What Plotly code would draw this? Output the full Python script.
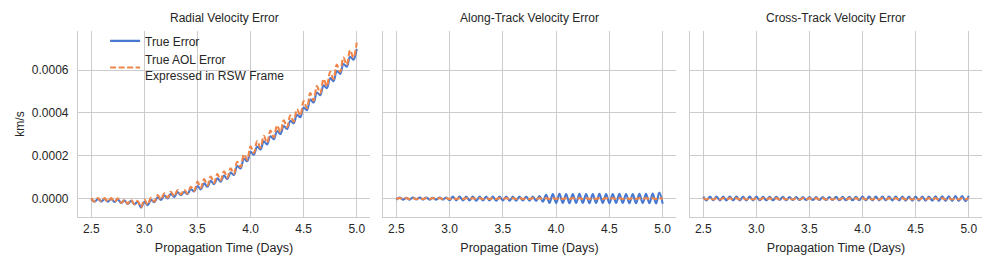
import numpy as np
import plotly.graph_objects as go
from plotly.subplots import make_subplots

# Propagation time grid: one sample every half orbit (16 orbits / day), 2.5 -> 5.0 days
time_days = np.linspace(2.5, 5.0, 81)

# Values, in mm/s (1e-6 km/s)
radial_true = [-2, -15, -2, -13, -2, -15, -2, -16, -3, -21, -9, -25, -10, -27, -15, -42,
               -15, -31, -6, -17, 6, -7, 15, 1, 22, 8, 30, 16, 31, 21, 45, 33,
               59, 43, 71, 55, 83, 67, 95, 79, 107, 91, 121, 110, 152, 141, 186, 174,
               218, 205, 243, 229, 267, 253, 291, 277, 315, 301, 339, 325, 363, 351, 391, 380,
               425, 412, 462, 448, 495, 482, 528, 515, 562, 548, 595, 582, 628, 615, 662, 648, 698]
radial_aol = [2, -14, 2, -12, 2, -14, 2, -15, 1, -20, -5, -24, -6, -26, -11, -41,
              -5, -28, 4, -14, 16, -4, 25, 4, 32, 11, 40, 19, 41, 24, 55, 36,
              79, 49, 91, 61, 103, 73, 115, 85, 127, 97, 141, 116, 172, 147, 206, 180,
              244, 213, 269, 237, 293, 261, 317, 285, 341, 309, 365, 333, 389, 359, 417, 388,
              455, 421, 492, 457, 525, 491, 558, 524, 592, 557, 625, 591, 658, 624, 692, 657, 728]
along_true = [-5, 5, -5, 4, -5, 5, -4, 5, -5, 5, -5, 4, -5, 5, -5, 5,
              -8, 9, -9, 9, -9, 10, -9, 9, -10, 9, -9, 10, -9, 9, -10, 9,
              -9, 10, -10, 9, -10, 10, -9, 10, -10, 10, -11, 12, -15,
              18, -21, 21, -21, 22, -21, 21, -22, 21, -21, 22, -21, 21, -22, 21, -21,
              22, -21, 21, -22, 21, -21, 22, -21, 21, -22, 21, -22, 22, -21, 22, -22,
              23, -23, 28, -24]
along_aol = [-2, 2, -2, 2, -2, 2, -2, 2, -2, 2, -2, 2, -2, 2, -2, 2,
             -2, 2, -2, 2, -2, 2, -2, 2, -2, 2, -2, 2, -2, 2, -2, 2,
             -2, 2, -2, 2, -2, 2, -2, 2, -2, 2, -2, 2, -2, 2, -2, 2,
             -2, 2, -2, 2, -2, 2, -2, 2, -2, 2, -2, 2, -2, 2, -2, 2,
             -2, 2, -2, 2, -2, 2, -2, 2, -2, 2, -2, 2, -2, 2, -2, 2, -2]
cross_true = [9, -9, 9, -8, 9, -9, 10, -9, 9, -9, 9, -9, 10, -9, 9, -9,
              9, -8, 8, -8, 8, -8, 8, -7, 8, -8, 7, -7, 7, -7, 7, -7,
              7, -7, 7, -7, 7, -7, 7, -7, 8, -8, 8, -8, 8, -8, 8, -8,
              9, -9, 9, -9, 9, -9, 9, -9, 9, -9, 9, -9, 10, -10, 10, -10,
              10, -10, 10, -10, 10, -10, 11, -11, 11, -11, 11, -11, 12, -11, 12, -12, 13]
cross_aol = [2, -4, 2, -4, 2, -4, 2, -4, 2, -4, 2, -4, 2, -4, 2, -4,
             2, -4, 2, -4, 2, -4, 2, -4, 2, -4, 2, -4, 2, -4, 2, -4,
             2, -4, 2, -4, 2, -4, 2, -4, 2, -4, 2, -4, 2, -4, 2, -4,
             2, -4, 2, -4, 2, -4, 2, -4, 2, -4, 2, -4, 2, -4, 2, -4,
             2, -4, 2, -4, 2, -4, 2, -4, 2, -4, 2, -4, 2, -4, 2, -4, 2]

panel_titles = ["Radial Velocity Error", "Along-Track Velocity Error", "Cross-Track Velocity Error"]
x_ticks = [2.5, 3.0, 3.5, 4.0, 4.5, 5.0]
y_ticks = [0.0, 0.0002, 0.0004, 0.0006]
series_names = ["True Error", "True AOL Error<br>Expressed in RSW Frame"]

MM_TO_KM = 1e-6
panels = [(radial_true, radial_aol), (along_true, along_aol), (cross_true, cross_aol)]

BLUE = "#4878d0"
ORANGE = "#ee854a"
GRID = "#cccccc"
TEXT = "#262626"
FONT = "Liberation Sans, Arial, sans-serif"

fig = make_subplots(rows=1, cols=3, shared_yaxes=True)

for i, (tru, aol) in enumerate(panels):
    col = i + 1
    fig.add_trace(go.Scatter(x=time_days, y=np.array(tru) * MM_TO_KM, mode="lines",
                             line=dict(color=BLUE, width=2.1, shape="spline"),
                             name=series_names[0], showlegend=(i == 0)), row=1, col=col)
    fig.add_trace(go.Scatter(x=time_days, y=np.array(aol) * MM_TO_KM, mode="lines",
                             line=dict(color=ORANGE, width=2.1, dash="6px,2.5px", shape="spline"),
                             name=series_names[1], showlegend=(i == 0)), row=1, col=col)

# The page body adds an 8px offset; figure is sized so the plot lands at the reference pixels.
OFF = 8
W, H = 996 - OFF, 269 - OFF
ml, mr, mt, mb = 78 - OFF, 14, 31 - OFF, 52
pw = W - ml - mr
domains = [((78 - 78) / pw, (370 - 78) / pw),
           ((383 - 78) / pw, (676 - 78) / pw),
           ((690 - 78) / pw, (982 - 78) / pw)]

for i in range(3):
    xa = "xaxis" if i == 0 else f"xaxis{i+1}"
    ya = "yaxis" if i == 0 else f"yaxis{i+1}"
    fig.layout[xa].update(
        domain=list(domains[i]), range=[2.375, 5.125], tickvals=x_ticks,
        ticktext=[f"{v:.1f}" for v in x_ticks],
        showgrid=True, gridcolor=GRID, gridwidth=1, zeroline=False,
        showline=True, linecolor=GRID, linewidth=1.2,
        ticks="", tickfont=dict(size=12, color=TEXT, family=FONT),
        title=dict(text="Propagation Time (Days)", standoff=8,
                   font=dict(size=12.5, color=TEXT, family=FONT)))
    fig.layout[ya].update(
        range=[-0.000086, 0.000782], tickvals=y_ticks,
        ticktext=[f"{v:.4f}" for v in y_ticks],
        showgrid=True, gridcolor=GRID, gridwidth=1, zeroline=False,
        showline=True, linecolor=GRID, linewidth=1.2,
        ticks="outside", ticklen=6, tickcolor="rgba(0,0,0,0)",
        tickfont=dict(size=12, color=TEXT, family=FONT),
        showticklabels=(i == 0))
    fig.add_annotation(text=panel_titles[i], xref="paper", yref="paper",
                       x=(domains[i][0] + domains[i][1]) / 2, y=1, yshift=13,
                       showarrow=False, xanchor="center", yanchor="middle",
                       font=dict(size=12, color=TEXT, family=FONT))

fig.layout.yaxis.title = dict(text="km/s", standoff=4, font=dict(size=12, color=TEXT, family=FONT))

fig.update_layout(
    width=W, height=H, margin=dict(l=ml, r=mr, t=mt, b=mb),
    paper_bgcolor="white", plot_bgcolor="white",
    font=dict(family=FONT, size=12, color=TEXT),
    legend=dict(x=0.03, y=1.025, xanchor="left", yanchor="top",
                bgcolor="rgba(0,0,0,0)", borderwidth=0,
                font=dict(size=12, color=TEXT, family=FONT),
                tracegroupgap=0, itemwidth=30),
)

fig.write_html("out.html")
